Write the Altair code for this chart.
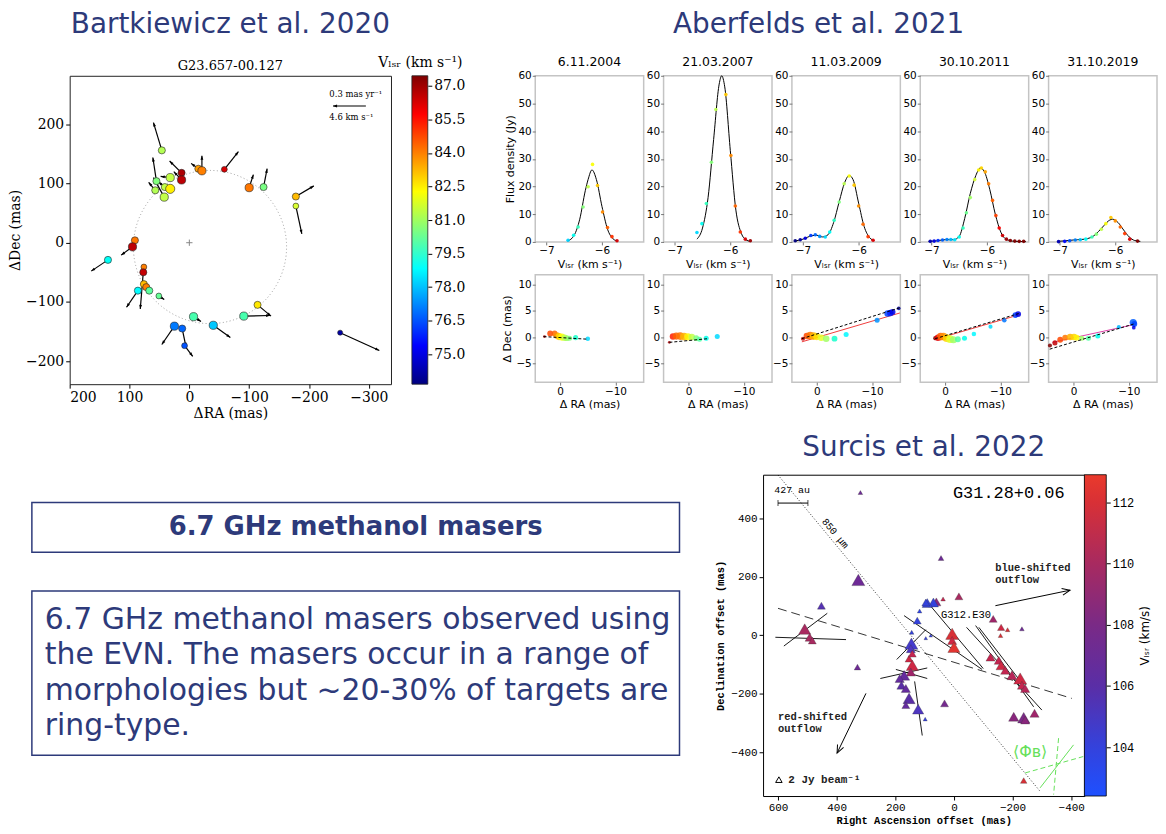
import altair as alt
import numpy as np
import pandas as pd

NAVY = "#2d3a7a"
SANS = "DejaVu Sans"
SERIF = "DejaVu Serif, DejaVu Sans"
MONO = "Liberation Mono, DejaVu Sans Mono"

# ---------------- slide texts ----------------
t_bart = "Bartkiewicz et al. 2020"
t_aber = "Aberfelds et al. 2021"
t_surc = "Surcis et al. 2022"
box1_text = "6.7 GHz methanol masers"
box2_lines = ["6.7 GHz methanol masers observed using",
              "the EVN. The masers occur in a range of",
              "morphologies but ~20-30% of targets are",
              "ring-type."]

# ---------------- Bartkiewicz et al. 2020 : G23.657-00.127 ----------------
b_ra = [46, 13, 13, 32, 55, 57, 41, 32, 42, -15, -21, -58.5, -100, -124, -178, -178,
        91, 95, 136, 76, 77, 76, 72, 67, 86, 51, -7, 25, 12, 8, -40, -91, -114, -252]
b_dec = [156, 118, 106, 110, 104, 88.5, 94, 91, 77, 125, 121.5, 124, 93, 94, 78, 62,
         4, -7, -29, -41, -50, -70, -75, -81, -81, -90, -125, -141, -145, -174, -139.5, -124, -105, -152]
b_v = [81.3, 86.8, 86.6, 81.5, 80.6, 81.3, 81.5, 82.5, 81.5, 83.6, 84.0, 86.2, 84.2, 80.5, 83.2, 81.8,
       84.2, 86.6, 79.0, 84.0, 86.5, 83.2, 84.0, 80.2, 78.8, 80.3, 80.0, 77.0, 76.6, 76.2, 78.0, 80.0, 82.6, 74.2]
b_flux = [3, 3, 4, 4, 3, 3, 3, 5, 4, 3, 4, 2, 4, 3, 3, 2,
          3, 4, 3, 2, 3, 3, 3, 3, 3, 2, 4, 4, 3, 2, 4, 4, 3, 1.5]
b_ra_tip = [60, 33, 26, 48, 61, 68, 52, 40, 60, -3, -21, -82, -107, -130, -208, -188,
            None, 114, 164, None, 82, None, None, None, 105, 42, -19.5, 46, 5.6, -5.6, -68.5, -135, -136.5, -317.5]
b_dec_tip = [203, 138, 120, 112, 144, 102, 103, 96, 110, 134, 147, 154, 115, 125, 96, 15,
             None, -21, -48, None, -112, None, None, None, -109, -96, -133, -172, -176, -192, -160, -123, -124, -182]
ring_ra, ring_dec, ring_r = [-34.5], [-7.3], [128]
scale_ra, scale_ra_tip, scale_dec = [-295], [-240], [231]
scale_txt = ["0.3 mas yr⁻¹", "4.6 km s⁻¹"]
scale_txt_ra, scale_txt_dec = [-234, -234], [251, 212]
b_cb_ticks = [75.0, 76.5, 78.0, 79.5, 81.0, 82.5, 84.0, 85.5, 87.0]
B_CB = [73.66, 87.45]
B_XD, B_YD = [200, -337], [-239, 282]
B_W, B_H = 323, 310

jet_colors = ["#00007f", "#0000ff", "#007fff", "#00ffff", "#7fff7f", "#ffff00", "#ff7f00", "#ff0000", "#7f0000"]
jet_pos = [k / 8 for k in range(9)]

# ---------------- Aberfelds et al. 2021 ----------------
a_dates = ["6.11.2004", "21.03.2007", "11.03.2009", "30.10.2011", "31.10.2019"]
a_curve_v = [
    [-6.62, -6.5, -6.4, -6.3, -6.25, -6.18, -6.1, -6.0, -5.9, -5.8, -5.72],
    [-6.6, -6.5, -6.4, -6.3, -6.2, -6.155, -6.1, -6.0, -5.9, -5.8, -5.72, -5.64],
    [-7.15, -7.0, -6.85, -6.75, -6.65, -6.55, -6.45, -6.35, -6.25, -6.17, -6.1, -6.0, -5.9, -5.8, -5.72],
    [-7.05, -6.9, -6.75, -6.6, -6.5, -6.4, -6.3, -6.2, -6.12, -6.05, -5.95, -5.85, -5.75, -5.65, -5.5, -5.3],
    [-7.05, -6.9, -6.75, -6.6, -6.5, -6.4, -6.3, -6.2, -6.1, -6.05, -5.95, -5.85, -5.75, -5.65, -5.55],
]
a_curve_f = [
    [0.3, 2.4, 8.2, 18.5, 22.5, 26, 22.5, 12.8, 4.6, 1.1, 0.3],
    [1.0, 5, 16, 37, 57, 60, 56, 33, 11.5, 3, 0.8, 0.2],
    [0.3, 1.0, 2.2, 2.4, 1.8, 2.6, 7.0, 14.5, 21.5, 24, 22.5, 14, 5.5, 1.5, 0.5],
    [0.2, 0.4, 0.8, 0.8, 2.0, 8.5, 17.5, 24, 26.7, 25.5, 19, 10, 3.5, 0.9, 0.2, 0.1],
    [0.2, 0.4, 0.7, 0.9, 1.2, 2.0, 3.8, 6.0, 7.9, 8.2, 7.0, 4.3, 1.8, 0.5, 0.2],
]
a_pt_v = [
    [-6.61, -6.51, -6.43, -6.34, -6.25, -6.17, -6.08, -5.99, -5.90, -5.82, -5.73],
    [-6.60, -6.51, -6.43, -6.34, -6.26, -6.08, -5.99, -5.91, -5.82, -5.73, -5.64],
    [-7.14, -7.05, -6.96, -6.86, -6.78, -6.70, -6.60, -6.52, -6.44, -6.35, -6.26, -6.17, -6.08, -6.0, -5.92, -5.83, -5.74],
    [-7.02, -6.95, -6.88, -6.8, -6.72, -6.65, -6.58, -6.5, -6.43, -6.37, -6.3, -6.22, -6.15, -6.1, -6.03, -5.97,
     -5.9, -5.84, -5.78, -5.72, -5.65, -5.58, -5.5, -5.42, -5.34],
    [-7.02, -6.91, -6.82, -6.72, -6.63, -6.53, -6.42, -6.34, -6.25, -6.17, -6.08, -6.0, -5.91, -5.83, -5.74, -5.6],
]
a_pt_f = [
    [0.6, 2.4, 5.4, 12.6, 19.9, 28, 20.4, 10.8, 5.2, 1.9, 0.4],
    [3.4, 6.6, 13.9, 28.8, 47.8, 53.2, 31.2, 13.0, 3.6, 1.0, 0.4],
    [0.4, 0.8, 1.3, 2.3, 2.6, 2.0, 1.8, 3.6, 7.8, 14.4, 21, 23.8, 20.5, 13, 6.4, 1.9, 0.6],
    [0.2, 0.3, 0.5, 0.7, 0.9, 0.9, 0.8, 1.8, 5.0, 10.5, 16, 22.5, 26, 26.7, 25.3, 21,
     15, 9.5, 5.0, 2.3, 1.0, 0.5, 0.3, 0.2, 0.2],
    [0.1, 0.2, 0.4, 0.7, 0.8, 1.0, 1.8, 2.8, 4.6, 6.6, 8.8, 7.6, 5.4, 3.0, 1.0, 0.3],
]
a_sp_ra = [
    [2.83, 1.8, 1.0, 0.6, 0.2, -0.3, -0.8, -1.2, -1.7, -2.8, -5.0],
    [3.45, 2.8, 2.2, 1.5, 0.8, 0.1, -0.6, -1.4, -2.0, -3.2, -5.2],
    [2.5, 1.8, 1.2, 0.6, 0.0, -0.8, -1.7, -3.2, -5.3, -10.9, -12.8, -13.3, -13.7, -14.8],
    [1.8, 1.3, 0.8, 0.3, -0.3, -0.9, -1.5, -2.3, -3.5, -5.2, -8.2, -10.7, -12.7, -13.2],
    [4.25, 3.35, 2.4, 1.5, 0.6, -0.1, -0.6, -1.5, -2.7, -4.4, -8.2, -10.8, -11.0, -10.9],
]
a_sp_dec = [
    [0.1, 0.7, 0.7, 0.3, 0.1, 0.0, -0.1, -0.2, -0.2, -0.1, -0.3],
    [-1.0, 0.1, 0.2, 0.2, 0.1, 0.05, 0.0, -0.2, -0.4, -0.2, 0.1],
    [-0.3, 0.2, 0.3, 0.2, 0.1, -0.1, -0.3, -0.3, 0.5, 3.2, 4.5, 4.6, 4.8, 5.5],
    [-0.2, -0.1, 0.1, 0.1, -0.2, -0.4, -0.5, -0.4, -0.2, 0.6, 2.0, 3.2, 4.2, 4.4],
    [-1.6, -1.1, -0.5, -0.1, 0.0, 0.0, -0.1, -0.2, -0.2, 0.2, 1.9, 2.8, 2.5, 1.8],
]
a_sp_v = [
    [-5.65, -5.85, -5.9, -6.0, -6.1, -6.17, -6.25, -6.3, -6.35, -6.45, -6.6],
    [-5.65, -5.8, -5.9, -5.95, -6.05, -6.15, -6.25, -6.35, -6.4, -6.5, -6.6],
    [-5.7, -5.85, -5.95, -6.05, -6.12, -6.2, -6.3, -6.45, -6.55, -6.7, -6.85, -6.9, -6.95, -7.05],
    [-5.6, -5.75, -5.9, -6.0, -6.1, -6.2, -6.3, -6.4, -6.5, -6.55, -6.6, -6.75, -6.85, -6.95],
    [-5.6, -5.7, -5.85, -5.95, -6.05, -6.1, -6.15, -6.3, -6.4, -6.5, -6.65, -6.8, -6.85, -6.95],
]
a_sp_flux = [
    [0.5, 2, 2, 2.5, 3, 3, 2.5, 2, 1.5, 1.5, 1.2],
    [0.5, 2.5, 3, 3.5, 3.5, 3, 2.5, 2, 1.5, 1.5, 1.5],
    [1, 2.5, 3.5, 3.5, 3, 2.5, 2.5, 2, 1.5, 1.5, 2.5, 2.5, 2, 0.8],
    [1, 2.5, 3.5, 3.5, 3.5, 3.5, 3, 2, 1.5, 1.2, 1, 1.2, 2, 2],
    [1, 1.5, 2, 2, 2.5, 2.5, 2, 1.5, 1.5, 1.5, 1, 3, 2, 0.8],
]
a_dash_ra1, a_dash_dec1 = [3.0, 3.45, 2.7, 1.8, 4.3], [0.1, -1.0, -0.3, -0.3, -2.3]
a_dash_ra2, a_dash_dec2 = [-5.0, -3.5, -15.0, -13.3, -11.2], [-0.4, -0.3, 5.6, 4.5, 2.6]
a_red_ra1, a_red_dec1 = [None, None, 2.7, 2.0, 3.8], [None, None, -0.9, -0.5, -1.0]
a_red_ra2, a_red_dec2 = [None, None, -15.0, -13.5, -11.0], [None, None, 4.6, 4.3, 2.4]
a_red_col = ["#f03c3c", "#f03c3c", "#f03c3c", "#f03c3c", "#e040a8"]
A_V = [-7.1, -5.6]

# ---------------- Surcis et al. 2022 : G31.28+0.06 ----------------
s_ra = [319, 326, 452, 509, 492, 483, 329, 44, -17, 37, 60, 70, 91, 96, 117, 125, 144, 145, 147, 96, 79,
        153, 142, 142, 147, 170, 185, 179, 164, 153, 164, 122, 98, 32, 6, 6, 0, -134, -161, -159, -183, -232,
        -125, -153, -161, -175, -198, -226, -232, -243, -204, -238, -243, -275, -238]
s_dec = [488, 189, 101, 21, -7, -18, -109, 264, 133, 124, 114, 112, 110, 112, 83, 50, 10, -29, -46, -10, -1,
         -80, -63, -103, -126, -137, -148, -171, -182, -216, -239, -253, -287, -233, 5, -18, -41, 56, 27, -1, 19, 22,
         -75, -86, -103, -120, -137, -148, -171, -182, -279, -282, -290, -267, -497]
s_v = [107, 107, 105.5, 110, 110, 110, 107, 107, 110, 111, 108.5, 104, 104, 104, 103.5, 104, 104, 104.5, 105, 104, 104,
       111.5, 111, 111.5, 109.5, 106.5, 106.5, 106, 106.5, 106, 106.5, 105, 104, 107.5, 112, 111.5, 112.5, 109.5, 111.5, 112, 112, 107,
       111, 111, 111.5, 111, 110.5, 111.5, 111, 110.5, 108.5, 108, 108.5, 109.5, 112]
s_flux = [1, 8, 3, 7, 4, 3, 2, 1.5, 3, 1, 4, 5, 5, 3, 1, 3, 1, 8, 4, 0.6, 0.6,
          3, 3, 7, 4, 6, 4, 4, 4, 7, 3, 6, 0.8, 3, 8, 4, 7, 3, 2.5, 1, 1, 1,
          4, 4, 5, 4, 5, 8, 4, 4, 5, 7, 4, 4, 2]
s_pol_x1 = [609, 580, 195, 251, 198, 134, 170, 88, -43, -74, -85]
s_pol_y1 = [-7, -37, -83, -148, -117, -158, 67, 110, 27, 33, 27]
s_pol_x2 = [368, 432, 96, 91, 91, 108, -96, -100, -300, -272, -255]
s_pol_y2 = [-15, 75, 19, -112, -148, -343, -117, -114, -256, -245, -194]
s_dot = [600, 548, -294, -534]          # 850 um ridge (x1, y1, x2, y2)
s_dash = [600, 92, -402, -216]          # dashed axis
s_out_x1, s_out_y1 = [-141.5, 300], [101, -199]
s_out_x2, s_out_y2 = [-396, 398.5], [154, -403]
s_bar = [600, 498, 452]                 # 427 au bar (x1, x2, y)
s_green_solid = [-294, -522, -408, -375]
s_green_dash_x1, s_green_dash_y1 = [-357, -243], [-352, -471]
s_green_dash_x2, s_green_dash_y2 = [-340, -441], [-545, -415]
S_DOM = [102.4, 104, 106, 108, 110, 112, 112.9]
S_COL = ["#1e50ff", "#3442dc", "#5a2ea6", "#7a2a86", "#a82a60", "#d83036", "#ea3a2c"]
S_XD, S_YD = [651, -445], [-550, 549]
S_W, S_H = 323, 323


# ================= helpers =================
def H(*charts, spacing, flush=True):
    return alt.hconcat(*charts, spacing=spacing, bounds="flush" if flush else "full").resolve_scale(
        color="independent", size="independent")


def V(*charts, spacing, flush=True, **kw):
    return alt.vconcat(*charts, spacing=spacing, bounds="flush" if flush else "full", **kw).resolve_scale(
        color="independent", size="independent")


def spacer(w, h):
    return alt.Chart(pd.DataFrame({"s": [0]})).mark_point(opacity=0, size=1).encode(
        x=alt.value(0), y=alt.value(0)).properties(width=w, height=h)


def gradient(pos, cols):
    return alt.LinearGradient(gradient="linear", x1=0, x2=0, y1=1, y2=0,
                              stops=[alt.GradientStop(color=c, offset=float(p)) for p, c in zip(pos, cols)])


def heading(dx, dy, sx, sy):
    # screen angle (deg clockwise from up) of a vector given in data units
    return np.degrees(np.arctan2(dx * sx, dy * sy))


HEAD_FILLED = "M0,0L-0.45,1.3L0.45,1.3Z"
HEAD_OPEN = "M-0.55,1.3L0,0L0.55,1.3"

# ================= Bartkiewicz panel =================
AXB = dict(labelFont=SERIF, labelFontSize=14, titleFont=SERIF, titleFontSize=14, titleFontWeight="normal",
           labelColor="black", titleColor="black", tickColor="black", tickSize=4, labelPadding=2,
           grid=False, domain=False)
jetB = alt.Scale(domain=[B_CB[0] + p * (B_CB[1] - B_CB[0]) for p in jet_pos], range=jet_colors, clamp=True)


def BX(f):
    return alt.X(f"{f}:Q", scale=alt.Scale(domain=B_XD, nice=False, zero=False),
                 axis=alt.Axis(values=[200, 100, 0, -100, -200, -300], title="ΔRA (mas)", titlePadding=2, **AXB))


def BY(f):
    return alt.Y(f"{f}:Q", scale=alt.Scale(domain=B_YD, nice=False, zero=False),
                 axis=alt.Axis(values=[200, 100, 0, -100, -200], title="ΔDec (mas)", titlePadding=3, **AXB))


sxB = B_W / (B_XD[0] - B_XD[1])
syB = B_H / (B_YD[1] - B_YD[0])
bdf = pd.DataFrame({"ra": b_ra, "dec": b_dec, "vb": b_v, "fb": b_flux, "ra2": b_ra_tip, "dec2": b_dec_tip})
barr = bdf.dropna().copy()
barr["ang"] = heading(-(barr.ra2 - barr.ra), barr.dec2 - barr.dec, sxB, syB)

ring = alt.Chart(pd.DataFrame({"ra": ring_ra, "dec": ring_dec, "r": ring_r})).mark_arc(
    filled=False, stroke="#9a9a9a", strokeWidth=1, strokeDash=[1, 2.5], theta=0, theta2=6.2832).encode(
    x=BX("ra"), y=BY("dec"),
    radius=alt.Radius("r:Q", scale=alt.Scale(type="linear", domain=[0, B_XD[0] - B_XD[1]], range=[0, B_W], zero=True)))
brules = alt.Chart(barr).mark_rule(color="black", strokeWidth=1.2).encode(
    x=BX("ra"), y=BY("dec"), x2="ra2:Q", y2="dec2:Q")
bheads = alt.Chart(barr).mark_point(shape=HEAD_FILLED, filled=True, color="black", size=40, opacity=1).encode(
    x=BX("ra2"), y=BY("dec2"), angle=alt.Angle("ang:Q", scale=None))
bspots = alt.Chart(bdf).mark_circle(stroke="#222", strokeWidth=0.6, opacity=1).encode(
    x=BX("ra"), y=BY("dec"),
    color=alt.Color("vb:Q", scale=jetB, legend=None),
    size=alt.Size("fb:Q", scale=alt.Scale(domain=[0, 5], range=[0, 85]), legend=None))
bcross = alt.Chart(pd.DataFrame({"ra": [0], "dec": [0]})).mark_point(
    shape="M-1,0L1,0M0,-1L0,1", size=40, stroke="#555", strokeWidth=1).encode(x=BX("ra"), y=BY("dec"))
sdf = pd.DataFrame({"ra": scale_ra, "ra2": scale_ra_tip, "dec": scale_dec})
sdf["ang"] = heading(-(sdf.ra2 - sdf.ra), 0 * sdf.dec, sxB, syB)
bscale = alt.Chart(sdf).mark_rule(color="black", strokeWidth=1.2).encode(x=BX("ra"), y=BY("dec"), x2="ra2:Q")
bscaleh = alt.Chart(sdf).mark_point(shape=HEAD_FILLED, filled=True, color="black", size=40, opacity=1).encode(
    x=BX("ra2"), y=BY("dec"), angle=alt.Angle("ang:Q", scale=None))
bscalet = alt.Chart(pd.DataFrame({"ra": scale_txt_ra, "dec": scale_txt_dec, "t": scale_txt})).mark_text(
    font=SERIF, fontSize=8.5, align="left", baseline="middle", color="black").encode(
    x=BX("ra"), y=BY("dec"), text="t:N")

bart = alt.layer(ring, brules, bheads, bspots, bcross, bscale, bscaleh, bscalet).properties(
    width=B_W, height=B_H,
    title=alt.Title(t_bart, subtitle="G23.657-00.127", font=SANS, fontSize=28, fontWeight="normal", color=NAVY,
                    subtitleFont=SERIF, subtitleFontSize=13, subtitleColor="black", subtitlePadding=21,
                    offset=3, anchor="middle"),
    view=alt.ViewBackground(stroke="#222", strokeWidth=1))

bart_cb = alt.Chart(pd.DataFrame({"lo": [B_CB[0]], "hi": [B_CB[1]]})).mark_rect(
    fill=gradient(jet_pos, jet_colors), stroke="#222", strokeWidth=0.8).encode(
    y=alt.Y("lo:Q", scale=alt.Scale(domain=B_CB, nice=False, zero=False),
            axis=alt.Axis(orient="right", values=b_cb_ticks, format=".1f", title="Vₗₛᵣ (km s⁻¹)",
                          titleAngle=0, titleAlign="center", titleBaseline="alphabetic", titleX=-8, titleY=-9,
                          **AXB)),
    y2="hi:Q").properties(width=16, height=B_H)

# ================= Aberfelds panels =================
AXA = dict(labelFont=SANS, labelFontSize=10.5, titleFont=SANS, titleFontSize=11, titleFontWeight="normal",
           labelColor="black", titleColor="black", tickColor="#777", tickSize=3, labelPadding=1,
           grid=False, domain=False)
jetA = alt.Scale(domain=[A_V[0] + p * (A_V[1] - A_V[0]) for p in jet_pos], range=jet_colors, clamp=True)
VLSR = "Vₗₛᵣ (km s⁻¹)"
FRAME_A = alt.ViewBackground(stroke="#c4c4c4", strokeWidth=1.5)
AW, AH_TOP, AH_BOT = 109, 167, 108


def aber_top(i):
    X = alt.X("v:Q", scale=alt.Scale(domain=[-7.2, -5.25], nice=False, zero=False),
              axis=alt.Axis(values=[-7, -6], title=VLSR, titlePadding=2, **AXA))
    yax = dict(values=[0, 10, 20, 30, 40, 50, 60], **AXA)
    if i == 0:
        yax["title"] = "Flux density (Jy)"
        yax["titlePadding"] = 3
    else:
        yax["title"] = None
    Y = alt.Y("f:Q", scale=alt.Scale(domain=[0, 60], nice=False, zero=False), axis=alt.Axis(**yax))
    line = alt.Chart(pd.DataFrame({"v": a_curve_v[i], "f": a_curve_f[i]})).mark_line(
        color="black", strokeWidth=1, interpolate="monotone").encode(x=X, y=Y)
    pts = alt.Chart(pd.DataFrame({"v": a_pt_v[i], "f": a_pt_f[i]})).mark_circle(size=13, opacity=0.95).encode(
        x=X, y=Y, color=alt.Color("v:Q", scale=jetA, legend=None))
    return alt.layer(line, pts).properties(
        width=AW, height=AH_TOP, view=FRAME_A,
        title=alt.Title(a_dates[i], font=SANS, fontSize=12.5, fontWeight="normal", color="black", offset=2))


def aber_bot(i):
    X = alt.X("x:Q", scale=alt.Scale(domain=[4.5, -15.1], nice=False, zero=False),
              axis=alt.Axis(values=[0, -10], title="Δ RA (mas)", titlePadding=2, **AXA))
    yax = dict(values=[-5, 0, 5, 10], **AXA)
    if i == 0:
        yax["title"] = "Δ Dec (mas)"
        yax["titlePadding"] = 3
    else:
        yax["title"] = None
    Y = alt.Y("y:Q", scale=alt.Scale(domain=[-8.6, 11.9], nice=False, zero=False), axis=alt.Axis(**yax))
    layers = []
    if a_red_ra1[i] is not None:
        rdf = pd.DataFrame({"x": [a_red_ra1[i]], "y": [a_red_dec1[i]], "x2": [a_red_ra2[i]], "y2": [a_red_dec2[i]]})
        layers.append(alt.Chart(rdf).mark_rule(color=a_red_col[i], strokeWidth=1).encode(
            x=X, y=Y, x2="x2:Q", y2="y2:Q"))
    ddf = pd.DataFrame({"x": [a_dash_ra1[i]], "y": [a_dash_dec1[i]], "x2": [a_dash_ra2[i]], "y2": [a_dash_dec2[i]]})
    spots = alt.Chart(pd.DataFrame({"x": a_sp_ra[i], "y": a_sp_dec[i], "v": a_sp_v[i], "s": a_sp_flux[i]})).mark_circle(
        opacity=0.85).encode(x=X, y=Y, color=alt.Color("v:Q", scale=jetA, legend=None),
                             size=alt.Size("s:Q", scale=alt.Scale(domain=[0, 3.5], range=[0, 60]), legend=None))
    layers.append(spots)
    layers.append(alt.Chart(ddf).mark_rule(color="black", strokeWidth=1, strokeDash=[3, 2]).encode(
        x=X, y=Y, x2="x2:Q", y2="y2:Q"))
    return alt.layer(*layers).properties(width=AW, height=AH_BOT, view=FRAME_A)


aber = V(H(*[aber_top(i) for i in range(5)], spacing=20),
         H(*[aber_bot(i) for i in range(5)], spacing=20), spacing=3, flush=False,
         title=alt.Title(t_aber, font=SANS, fontSize=28, fontWeight="normal", color=NAVY, offset=17, dx=-11,
                         anchor="middle"))

# ================= Surcis panel =================
AXS = dict(labelFont=MONO, labelFontSize=11, titleFont=MONO, titleFontSize=10.5, titleFontWeight="bold",
           labelColor="black", titleColor="black", tickColor="black", tickSize=4, labelPadding=2,
           grid=False, domain=False)
colS = alt.Scale(domain=S_DOM, range=S_COL, clamp=True)
sxS = S_W / (S_XD[0] - S_XD[1])
syS = S_H / (S_YD[1] - S_YD[0])


def SX(f):
    return alt.X(f"{f}:Q", scale=alt.Scale(domain=S_XD, nice=False, zero=False),
                 axis=alt.Axis(values=[600, 400, 200, 0, -200, -400], title="Right Ascension offset (mas)",
                               titlePadding=3, **AXS))


def SY(f):
    return alt.Y(f"{f}:Q", scale=alt.Scale(domain=S_YD, nice=False, zero=False),
                 axis=alt.Axis(values=[400, 200, 0, -200, -400], title="Declination offset (mas)",
                               titlePadding=5, **AXS))


def seg_df(x1, y1, x2, y2):
    return pd.DataFrame({"x": x1, "y": y1, "x2": x2, "y2": y2})


def seg(df, **mk):
    return alt.Chart(df).mark_rule(clip=True, **mk).encode(x=SX("x"), y=SY("y"), x2="x2:Q", y2="y2:Q")


def stext(x, y, t, **mk):
    return alt.Chart(pd.DataFrame({"x": x, "y": y, "t": t})).mark_text(**mk).encode(
        x=SX("x"), y=SY("y"), text="t:N")


s_dotted = seg(seg_df([s_dot[0]], [s_dot[1]], [s_dot[2]], [s_dot[3]]), color="black", strokeWidth=0.8, strokeDash=[1, 2])
s_dashed = seg(seg_df([s_dash[0]], [s_dash[1]], [s_dash[2]], [s_dash[3]]), color="black", strokeWidth=0.8,
               strokeDash=[9, 5])
s_pol = seg(seg_df(s_pol_x1, s_pol_y1, s_pol_x2, s_pol_y2), color="black", strokeWidth=0.9)
s_green = seg(seg_df([s_green_solid[0]], [s_green_solid[1]], [s_green_solid[2]], [s_green_solid[3]]),
              color="#66e05a", strokeWidth=1)
s_greend = seg(seg_df(s_green_dash_x1, s_green_dash_y1, s_green_dash_x2, s_green_dash_y2),
               color="#66e05a", strokeWidth=1, strokeDash=[5, 3])
s_tri = alt.Chart(pd.DataFrame({"x": s_ra, "y": s_dec, "vs": s_v, "fs": s_flux})).mark_point(
    shape="triangle-up", filled=True, stroke="#333", strokeWidth=0.3, opacity=1).encode(
    x=SX("x"), y=SY("y"), color=alt.Color("vs:Q", scale=colS, legend=None),
    size=alt.Size("fs:Q", scale=alt.Scale(domain=[0, 8], range=[0, 170]), legend=None))
s_key = alt.Chart(pd.DataFrame({"x": [597], "y": [-494], "fs": [2]})).mark_point(
    shape="triangle-up", filled=False, color="black", strokeWidth=1, opacity=1).encode(
    x=SX("x"), y=SY("y"), size=alt.Size("fs:Q", scale=alt.Scale(domain=[0, 8], range=[0, 170]), legend=None))
odf = seg_df(s_out_x1, s_out_y1, s_out_x2, s_out_y2)
odf["ang"] = heading(-(odf.x2 - odf.x), odf.y2 - odf.y, sxS, syS)
s_out = seg(odf, color="black", strokeWidth=1)
s_outh = alt.Chart(odf).mark_point(shape=HEAD_OPEN, filled=False, color="black", strokeWidth=1, size=150,
                                   opacity=1).encode(x=SX("x2"), y=SY("y2"), angle=alt.Angle("ang:Q", scale=None))
s_barl = seg(seg_df([s_bar[0]], [s_bar[2]], [s_bar[1]], [s_bar[2]]), color="black", strokeWidth=1)
s_bart = alt.Chart(pd.DataFrame({"x": [s_bar[0], s_bar[1]], "y": [s_bar[2], s_bar[2]]})).mark_tick(
    orient="vertical", size=6, thickness=1, color="black").encode(x=SX("x"), y=SY("y"))
s_texts = [
    stext([-187], [486], ["G31.28+0.06"], font=MONO, fontSize=17, align="center", baseline="middle", color="black"),
    stext([613], [496], ["427 au"], font=MONO, fontSize=10, align="left", baseline="middle", color="black"),
    stext([-41], [69], ["G312.E30"], font=MONO, fontSize=10.5, align="center", baseline="middle", color="black"),
    stext([-141, -141], [229, 189], ["blue-shifted", "outflow"], font=MONO, fontSize=10.5, fontWeight="bold",
          align="left", baseline="middle", color="#222"),
    stext([600, 600], [-281, -321], ["red-shifted", "outflow"], font=MONO, fontSize=10.5, fontWeight="bold",
          align="left", baseline="middle", color="#222"),
    stext([565], [-494], ["2 Jy beam⁻¹"], font=MONO, fontSize=11, fontWeight="bold", align="left",
          baseline="middle", color="#222"),
    stext([405], [348], ["850 μm"], font=MONO, fontSize=10, angle=50, align="center", baseline="middle",
          color="black"),
    stext([-260], [-398], ["⟨Φв⟩"], font=SANS, fontSize=16, align="center", baseline="middle", color="#66e05a"),
]
surcis = alt.layer(s_dotted, s_dashed, s_pol, s_green, s_greend, s_tri, s_key, s_out, s_outh, s_barl, s_bart,
                   *s_texts).properties(
    width=S_W, height=S_H, view=alt.ViewBackground(stroke="black", strokeWidth=1),
    title=alt.Title(t_surc, font=SANS, fontSize=28, fontWeight="normal", color=NAVY, offset=13, anchor="middle"))

surcis_cb = alt.Chart(pd.DataFrame({"lo": [S_DOM[0]], "hi": [S_DOM[-1]]})).mark_rect(
    fill=gradient([(d - S_DOM[0]) / (S_DOM[-1] - S_DOM[0]) for d in S_DOM], S_COL), stroke="black",
    strokeWidth=0.8).encode(
    y=alt.Y("lo:Q", scale=alt.Scale(domain=[S_DOM[0], S_DOM[-1]], nice=False, zero=False),
            axis=alt.Axis(orient="right", values=[104, 106, 108, 110, 112], title="Vₗₛᵣ (km/s)",
                          titleAngle=270, titleBaseline="top", titlePadding=6,
                          **{**AXS, "labelFontSize": 12, "titleFont": SANS, "titleFontSize": 12,
                             "titleFontWeight": "normal"})),
    y2="hi:Q").properties(width=22, height=S_H)

# ================= text boxes =================
BOXW = 651
box1 = alt.Chart(pd.DataFrame({"t": [box1_text]})).mark_text(
    font=SANS, fontWeight="bold", fontSize=26, color=NAVY, align="center", baseline="middle").encode(
    text="t:N", x=alt.value(BOXW / 2), y=alt.value(25)).properties(
    width=BOXW, height=50, view=alt.ViewBackground(stroke=NAVY, strokeWidth=1.5))
box2 = alt.Chart(pd.DataFrame({"a": [0]})).mark_text(
    font=SANS, fontSize=30, color=NAVY, align="left", baseline="alphabetic", lineHeight=35.5).encode(
    text=alt.value(box2_lines), x=alt.value(13), y=alt.value(38)).properties(
    width=BOXW, height=165, view=alt.ViewBackground(stroke=NAVY, strokeWidth=1.5))

# ================= layout =================
# flush only where every child is a single (unit/layer) view; full bounds elsewhere.
# Rows share their left origin, so row 1 starts with a thin spacer and pulls the
# Bartkiewicz group left by its axis-title overhang.
bart_grp = H(bart, bart_cb, spacing=21)
row1 = H(spacer(1, 1), H(bart_grp, aber, spacing=35, flush=False), spacing=-25, flush=False)
left_col = V(V(spacer(BOXW, 28), box1, spacing=0), box2, spacing=37, flush=False)
surcis_grp = H(surcis, surcis_cb, spacing=0)
row2 = H(left_col, surcis_grp, spacing=35, flush=False)
chart = V(row1, row2, spacing=12, flush=False).properties(
    padding={"left": 0, "top": 0, "right": 0, "bottom": 0}, background="white"
).configure_view(stroke=None)

chart.save("out.html", embed_options={"renderer": "svg", "actions": False})
